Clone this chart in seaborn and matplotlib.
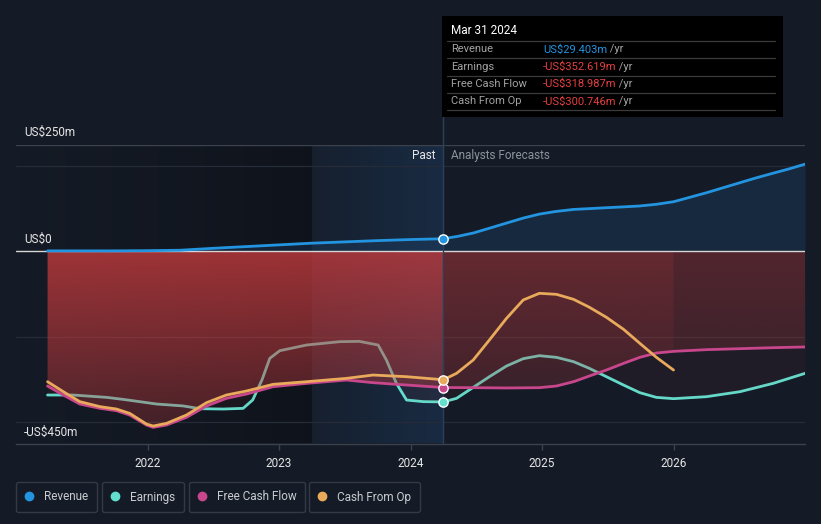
import numpy as np
import pandas as pd
import seaborn as sns
import matplotlib
matplotlib.use('Agg')
import matplotlib.pyplot as plt
from matplotlib.lines import Line2D

# ---- data (US$m) ----
rev_x = [2021.24, 2021.5, 2021.75, 2022.0, 2022.25, 2022.5, 2022.75, 2023.0, 2023.25, 2023.5, 2023.75, 2024.0, 2024.25,
         2024.36, 2024.48, 2024.6, 2024.73, 2024.86, 2024.98, 2025.1, 2025.24, 2025.37, 2025.49, 2025.62, 2025.74,
         2025.87, 2026.0, 2026.12, 2026.25, 2026.38, 2026.51, 2026.63, 2026.76, 2026.88, 2027.0]
rev_y = [1, 1, 1, 1.5, 2.5, 7, 11, 15, 19, 22, 25, 27.5, 29.403,
         35, 43, 54, 66, 78, 87, 93, 98, 100, 102, 104, 106,
         110, 116, 126, 137, 149, 161, 172, 183, 193, 204]

earn_x = [2021.24, 2021.435, 2021.69, 2021.815, 2021.94, 2022.07, 2022.27, 2022.40, 2022.575, 2022.727, 2022.80,
          2022.87, 2022.93, 2023.006, 2023.21, 2023.46, 2023.61, 2023.754, 2023.817, 2023.893, 2023.97, 2024.10,
          2024.25, 2024.35, 2024.477, 2024.60, 2024.73, 2024.857, 2024.98, 2025.11, 2025.24, 2025.36, 2025.49,
          2025.62, 2025.744, 2025.87, 2026.0, 2026.25, 2026.505, 2026.758, 2027.0]
earn_y = [-336.5, -336.5, -342, -346.7, -352, -357.6, -362, -368.5, -369.3, -367.7, -348,
          -301.4, -250.6, -232.7, -219.4, -211.6, -210.8, -219.4, -254.6, -309.2, -348.2, -352,
          -352.619, -344.3, -318.6, -293.6, -268.6, -251.4, -244.4, -248.3, -258.4, -274, -293.6,
          -313.1, -331, -342, -345, -340.4, -328.7, -309.2, -285.8]

fcf_x = [2021.24, 2021.36, 2021.485, 2021.64, 2021.764, 2021.865, 2021.992, 2022.043, 2022.144, 2022.296, 2022.448,
         2022.60, 2022.753, 2022.955, 2023.21, 2023.513, 2023.716, 2023.97, 2024.25, 2024.477, 2024.73, 2024.98,
         2025.11, 2025.24, 2025.36, 2025.49, 2025.62, 2025.744, 2025.87, 2026.0, 2026.25, 2026.505, 2026.758, 2027.0]
fcf_y = [-315.4, -336.5, -357.6, -367.7, -373.2, -383.4, -406.8, -412.2, -406.8, -388.8, -362.3,
         -344.3, -334.2, -317, -309.2, -301.4, -307.6, -313.1, -318.987, -319.3, -320, -319.3,
         -315.4, -305.3, -292, -278, -262.4, -248.3, -238.2, -234.3, -230.3, -228, -225.7, -224]

cfo_x = [2021.24, 2021.36, 2021.485, 2021.64, 2021.764, 2021.865, 2021.992, 2022.043, 2022.144, 2022.296, 2022.448,
         2022.60, 2022.753, 2022.955, 2023.21, 2023.513, 2023.716, 2023.97, 2024.25, 2024.35, 2024.477, 2024.60,
         2024.73, 2024.857, 2024.98, 2025.11, 2025.24, 2025.36, 2025.49, 2025.62, 2025.744, 2025.87, 2026.0]
cfo_y = [-305.3, -328.7, -352, -363.8, -369.3, -379.5, -404.4, -409.1, -402.9, -383.4, -354.5,
         -336.5, -327.1, -311.5, -305.3, -297.5, -289.7, -293.6, -300.746, -285.8, -254.5, -207.7,
         -157, -114, -98.4, -100.8, -112.5, -131, -154.6, -182.7, -215.5, -248.3, -278]

year_ticks = [2022, 2023, 2024, 2025, 2026]
now_x = 2024.25
past_start = 2023.25
tip_rows = [('Revenue', 'US$29.403m'), ('Earnings', '-US$352.619m'),
            ('Free Cash Flow', '-US$318.987m'), ('Cash From Op', '-US$300.746m')]

C_REV, C_EARN, C_FCF, C_CFO = '#2394df', '#62e0cf', '#c8478c', '#e9aa5b'
BG = '#151b26'

sns.set_theme(style='dark')
plt.rcParams['font.family'] = ['Roboto', 'DejaVu Sans']

fig = plt.figure(figsize=(8.21, 5.24), dpi=100, facecolor=BG)
ax = fig.add_axes([16/821, 1-443.5/524, 789/821, 299/524])
ax.set_facecolor(BG)
XL, YL = (2021.0, 2027.0), (-450, 250)


def hgrad(x0, x1, rgb, a0, a1, z):
    # horizontal alpha ramp over the full height
    img = np.zeros((2, 200, 4))
    img[..., :3] = rgb
    img[..., 3] = np.linspace(a0, a1, 200)[None, :]
    ax.imshow(img, extent=[x0, x1, YL[0], YL[1]], aspect='auto', zorder=z, interpolation='bilinear')


# background zones
hgrad(XL[0], past_start, (0.03, 0.04, 0.06), 0.0, 0.45, 0)
hgrad(past_start, now_x, (0.12, 0.26, 0.42), 0.12, 0.42, 0)

# gridlines
for g in [200, -200, -400]:
    ax.axhline(g, color='#262c37', lw=0.9, zorder=1)
ax.axhline(250, color='#3c424d', lw=1, zorder=1)

# revenue area
ax.fill_between(rev_x, rev_y, 0, color='#1e4a78', alpha=0.3, lw=0, zorder=2)

# earnings line (under the red area)
sns.lineplot(x=earn_x, y=earn_y, color=C_EARN, lw=2.0, ax=ax, zorder=3)
ax.fill_between(earn_x, earn_y, 0, color='#c83c3e', alpha=0.06, lw=0, zorder=3)

# red gradient area down to free cash flow
gx = np.linspace(XL[0], XL[1], 600)
gy = np.linspace(0, YL[0], 200)
depth = (gy / YL[0])[:, None]
fac = np.where(gx < now_x, 1.0, np.where(gx < 2026.0, 0.55, 0.4))[None, :]
top_a = 0.76 * fac
alpha = top_a + (0.22 * fac - top_a) * depth
rgba = np.zeros((len(gy), len(gx), 4))
rgba[..., 0], rgba[..., 1], rgba[..., 2] = 200/255, 60/255, 62/255
rgba[..., 3] = alpha
poly = ax.fill_between(fcf_x, fcf_y, 0, facecolor='none', lw=0)
im = ax.imshow(rgba, extent=[XL[0], XL[1], YL[0], 0], origin='upper', aspect='auto', zorder=4,
               interpolation='bilinear')
im.set_clip_path(poly.get_paths()[0], transform=ax.transData)

# zero line
ax.axhline(0, color='#d6d6d6', lw=1, zorder=5)

sns.lineplot(x=rev_x, y=rev_y, color=C_REV, lw=2.0, ax=ax, zorder=6)
sns.lineplot(x=fcf_x, y=fcf_y, color=C_FCF, lw=2.0, ax=ax, zorder=6)
sns.lineplot(x=cfo_x, y=cfo_y, color=C_CFO, lw=2.0, ax=ax, zorder=7)

# markers at "now"
for xs, ys, c in [(rev_x, rev_y, C_REV), (earn_x, earn_y, C_EARN), (fcf_x, fcf_y, C_FCF), (cfo_x, cfo_y, C_CFO)]:
    i = xs.index(now_x)
    ax.scatter([xs[i]], [ys[i]], s=45, color=c, edgecolor='white', linewidth=1, zorder=9)

# now line, running up to the tooltip
ax.axvline(now_x, ymin=0, ymax=(443.5-117)/299, color='#2b4058', lw=1, zorder=8, clip_on=False)

ax.set_xlim(XL)
ax.set_ylim(YL)
ax.set_xticks(year_ticks)
ax.set_xticklabels([str(t) for t in year_ticks], color='#e6e6e6', fontsize=8.5)
ax.set_yticks([])
ax.tick_params(axis='x', length=4, width=1, color='#3c424d', pad=6, bottom=True)
for s in ['top', 'left', 'right']:
    ax.spines[s].set_visible(False)
ax.spines['bottom'].set_color('#3c424d')
ax.spines['bottom'].set_linewidth(1)
ax.grid(False)

# y labels
fig.text(24/821, 1-132/524, 'US$250m', color='#e6e6e6', fontsize=8.5, va='center')
fig.text(24/821, 1-239/524, 'US$0', color='#e6e6e6', fontsize=8.5, va='center')
fig.text(24/821, 1-432/524, '-US$450m', color='#e6e6e6', fontsize=8.5, va='center')

fig.text(435/821, 1-156/524, 'Past', color='#e6e6e6', fontsize=8.5, va='center', ha='right')
fig.text(451/821, 1-156/524, 'Analysts Forecasts', color='#8d929b', fontsize=8.5, va='center', ha='left')

# tooltip
tip = fig.add_axes([442/821, 1-117/524, 341/821, 101/524])
tip.set_facecolor('black')
tip.set_xlim(442, 783)
tip.set_ylim(117, 16)
tip.set_xticks([])
tip.set_yticks([])
for s in tip.spines.values():
    s.set_visible(False)
tip.text(451, 31, 'Mar 31 2024', color='white', fontsize=8.5, va='center')
for yy in [41, 58, 76, 93, 110]:
    tip.plot([447, 775], [yy, yy], color='#3a3a3a', lw=0.9)
for k, (lab, val) in enumerate(tip_rows):
    yy = 49.5 + k * 17.3
    tip.text(451, yy, lab, color='#a3a3a3', fontsize=8, va='center')
    t = tip.text(543, yy, val, color=C_REV if k == 0 else '#e5413f', fontsize=8, va='center')
    tip.annotate(' /yr', xy=(1, 0.5), xycoords=t, va='center', ha='left', color='#a3a3a3', fontsize=8)

# legend boxes
for x0, lab, c in [(16, 'Revenue', C_REV), (102, 'Earnings', C_EARN), (189, 'Free Cash Flow', C_FCF),
                   (309, 'Cash From Op', C_CFO)]:
    h = Line2D([], [], marker='o', ls='', color=c, markersize=6)
    lg = fig.legend([h], [lab], loc='center left', bbox_to_anchor=(x0/821, 1-497/524), borderaxespad=0,
                    frameon=True, fontsize=8.5, handlelength=0.7, handletextpad=0.9, borderpad=0.75,
                    labelcolor='#c9cbd0')
    fr = lg.get_frame()
    fr.set_facecolor(BG)
    fr.set_edgecolor('#3c424d')
    fr.set_linewidth(1)

fig.savefig('out.png', dpi=100, facecolor=BG)
